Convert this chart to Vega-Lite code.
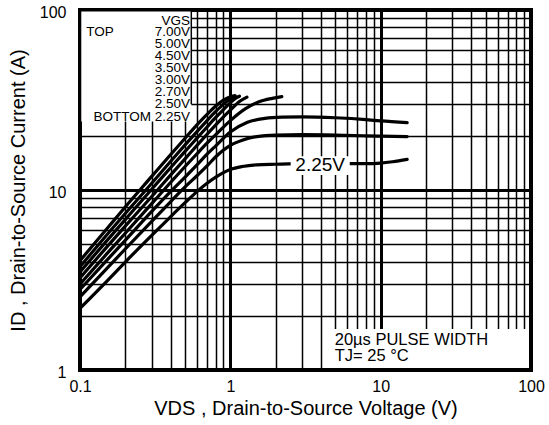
{
  "$schema": "https://vega.github.io/schema/vega-lite/v6.json",
  "width": 451,
  "height": 360,
  "autosize": "none",
  "padding": {"left": 80, "top": 10, "right": 18, "bottom": 55},
  "background": "white",
  "config": {
    "font": "Liberation Sans",
    "view": {"stroke": "black", "strokeWidth": 4},
    "axis": {
      "grid": true,
      "gridColor": "#000",
      "gridOpacity": 1,
      "ticks": false,
      "domain": false,
      "labelColor": "#000",
      "labelFontSize": 16,
      "labelOverlap": false,
      "labelBound": false,
      "labelFlush": false,
      "titleColor": "#000",
      "titleFontWeight": "normal",
      "titleFontSize": 20
    }
  },
  "datasets": {
    "curves": [
      {"vgs": "2.25V", "vds": 0.1, "id": 2.2}, {"vgs": "2.25V", "vds": 0.15, "id": 3.1}, {"vgs": "2.25V", "vds": 0.2, "id": 3.98}, {"vgs": "2.25V", "vds": 0.3, "id": 5.6}, {"vgs": "2.25V", "vds": 0.4, "id": 7.1}, {"vgs": "2.25V", "vds": 0.5, "id": 8.5}, {"vgs": "2.25V", "vds": 0.6, "id": 9.8}, {"vgs": "2.25V", "vds": 0.7, "id": 10.9}, {"vgs": "2.25V", "vds": 0.8, "id": 11.8}, {"vgs": "2.25V", "vds": 0.9, "id": 12.5}, {"vgs": "2.25V", "vds": 1.0, "id": 13.0}, {"vgs": "2.25V", "vds": 1.2, "id": 13.5}, {"vgs": "2.25V", "vds": 1.5, "id": 13.8}, {"vgs": "2.25V", "vds": 2.0, "id": 13.9}, {"vgs": "2.25V", "vds": 3, "id": 14.0}, {"vgs": "2.25V", "vds": 5, "id": 14.0}, {"vgs": "2.25V", "vds": 8, "id": 14.0}, {"vgs": "2.25V", "vds": 10, "id": 14.1}, {"vgs": "2.25V", "vds": 12, "id": 14.35}, {"vgs": "2.25V", "vds": 15, "id": 14.8},
      {"vgs": "2.50V", "vds": 0.1, "id": 2.55}, {"vgs": "2.50V", "vds": 0.15, "id": 3.65}, {"vgs": "2.50V", "vds": 0.2, "id": 4.7}, {"vgs": "2.50V", "vds": 0.3, "id": 6.7}, {"vgs": "2.50V", "vds": 0.4, "id": 8.6}, {"vgs": "2.50V", "vds": 0.5, "id": 10.4}, {"vgs": "2.50V", "vds": 0.6, "id": 12.0}, {"vgs": "2.50V", "vds": 0.7, "id": 13.6}, {"vgs": "2.50V", "vds": 0.8, "id": 15.3}, {"vgs": "2.50V", "vds": 1.0, "id": 17.7}, {"vgs": "2.50V", "vds": 1.2, "id": 18.9}, {"vgs": "2.50V", "vds": 1.5, "id": 19.8}, {"vgs": "2.50V", "vds": 2.0, "id": 20.2}, {"vgs": "2.50V", "vds": 3, "id": 20.3}, {"vgs": "2.50V", "vds": 5, "id": 20.2}, {"vgs": "2.50V", "vds": 8, "id": 20.0}, {"vgs": "2.50V", "vds": 10, "id": 19.9}, {"vgs": "2.50V", "vds": 15, "id": 19.8},
      {"vgs": "2.70V", "vds": 0.1, "id": 2.8}, {"vgs": "2.70V", "vds": 0.15, "id": 4.05}, {"vgs": "2.70V", "vds": 0.2, "id": 5.25}, {"vgs": "2.70V", "vds": 0.3, "id": 7.6}, {"vgs": "2.70V", "vds": 0.4, "id": 9.8}, {"vgs": "2.70V", "vds": 0.5, "id": 11.8}, {"vgs": "2.70V", "vds": 0.6, "id": 13.8}, {"vgs": "2.70V", "vds": 0.7, "id": 15.8}, {"vgs": "2.70V", "vds": 0.8, "id": 17.6}, {"vgs": "2.70V", "vds": 1.0, "id": 21.0}, {"vgs": "2.70V", "vds": 1.3, "id": 23.8}, {"vgs": "2.70V", "vds": 1.7, "id": 25.0}, {"vgs": "2.70V", "vds": 2.2, "id": 25.4}, {"vgs": "2.70V", "vds": 3, "id": 25.5}, {"vgs": "2.70V", "vds": 5, "id": 25.2}, {"vgs": "2.70V", "vds": 8, "id": 24.6}, {"vgs": "2.70V", "vds": 10, "id": 24.2}, {"vgs": "2.70V", "vds": 15, "id": 23.7},
      {"vgs": "3.00V", "vds": 0.1, "id": 3.0}, {"vgs": "3.00V", "vds": 0.15, "id": 4.4}, {"vgs": "3.00V", "vds": 0.2, "id": 5.75}, {"vgs": "3.00V", "vds": 0.3, "id": 8.4}, {"vgs": "3.00V", "vds": 0.4, "id": 11.0}, {"vgs": "3.00V", "vds": 0.5, "id": 13.5}, {"vgs": "3.00V", "vds": 0.6, "id": 15.9}, {"vgs": "3.00V", "vds": 0.7, "id": 18.2}, {"vgs": "3.00V", "vds": 0.8, "id": 20.3}, {"vgs": "3.00V", "vds": 1.0, "id": 24.3}, {"vgs": "3.00V", "vds": 1.27, "id": 28.4}, {"vgs": "3.00V", "vds": 1.55, "id": 30.9}, {"vgs": "3.00V", "vds": 1.9, "id": 32.3}, {"vgs": "3.00V", "vds": 2.2, "id": 33.0},
      {"vgs": "3.50V", "vds": 0.1, "id": 3.25}, {"vgs": "3.50V", "vds": 0.15, "id": 4.8}, {"vgs": "3.50V", "vds": 0.2, "id": 6.3}, {"vgs": "3.50V", "vds": 0.3, "id": 9.2}, {"vgs": "3.50V", "vds": 0.4, "id": 12.1}, {"vgs": "3.50V", "vds": 0.5, "id": 14.9}, {"vgs": "3.50V", "vds": 0.6, "id": 17.7}, {"vgs": "3.50V", "vds": 0.7, "id": 20.4}, {"vgs": "3.50V", "vds": 0.8, "id": 23.0}, {"vgs": "3.50V", "vds": 0.9, "id": 25.5}, {"vgs": "3.50V", "vds": 1.0, "id": 27.8}, {"vgs": "3.50V", "vds": 1.15, "id": 31.0}, {"vgs": "3.50V", "vds": 1.29, "id": 32.8},
      {"vgs": "4.50V", "vds": 0.1, "id": 3.5}, {"vgs": "4.50V", "vds": 0.15, "id": 5.2}, {"vgs": "4.50V", "vds": 0.2, "id": 6.85}, {"vgs": "4.50V", "vds": 0.3, "id": 10.1}, {"vgs": "4.50V", "vds": 0.4, "id": 13.3}, {"vgs": "4.50V", "vds": 0.5, "id": 16.4}, {"vgs": "4.50V", "vds": 0.6, "id": 19.4}, {"vgs": "4.50V", "vds": 0.7, "id": 22.4}, {"vgs": "4.50V", "vds": 0.8, "id": 25.3}, {"vgs": "4.50V", "vds": 0.9, "id": 28.0}, {"vgs": "4.50V", "vds": 1.0, "id": 30.6}, {"vgs": "4.50V", "vds": 1.1, "id": 32.6}, {"vgs": "4.50V", "vds": 1.15, "id": 33.2},
      {"vgs": "5.00V", "vds": 0.1, "id": 3.75}, {"vgs": "5.00V", "vds": 0.15, "id": 5.6}, {"vgs": "5.00V", "vds": 0.2, "id": 7.4}, {"vgs": "5.00V", "vds": 0.3, "id": 10.9}, {"vgs": "5.00V", "vds": 0.4, "id": 14.4}, {"vgs": "5.00V", "vds": 0.5, "id": 17.8}, {"vgs": "5.00V", "vds": 0.6, "id": 21.1}, {"vgs": "5.00V", "vds": 0.7, "id": 24.3}, {"vgs": "5.00V", "vds": 0.8, "id": 27.3}, {"vgs": "5.00V", "vds": 0.9, "id": 30.0}, {"vgs": "5.00V", "vds": 1.0, "id": 32.2}, {"vgs": "5.00V", "vds": 1.08, "id": 33.3},
      {"vgs": "7.00V", "vds": 0.1, "id": 4.05}, {"vgs": "7.00V", "vds": 0.15, "id": 6.05}, {"vgs": "7.00V", "vds": 0.2, "id": 8.05}, {"vgs": "7.00V", "vds": 0.3, "id": 11.9}, {"vgs": "7.00V", "vds": 0.4, "id": 15.7}, {"vgs": "7.00V", "vds": 0.5, "id": 19.4}, {"vgs": "7.00V", "vds": 0.6, "id": 23.0}, {"vgs": "7.00V", "vds": 0.7, "id": 26.3}, {"vgs": "7.00V", "vds": 0.8, "id": 29.3}, {"vgs": "7.00V", "vds": 0.9, "id": 31.6}, {"vgs": "7.00V", "vds": 1.0, "id": 33.0}, {"vgs": "7.00V", "vds": 1.06, "id": 33.4}
    ],
    "boxes": [
      {"x": 0.102, "x2": 0.55, "y": 24, "y2": 98},
      {"x": 2.52, "x2": 6.23, "y": 12.1, "y2": 15.4},
      {"x": 4.15, "x2": 95.5, "y": 1.025, "y2": 1.69}
    ],
    "rules": [
      {"x": 0.55, "y": 30, "y2": 100}
    ],
    "legend": [
      {"label": "VGS", "x": 0.54, "y": 87.4},
      {"label": "7.00V", "x": 0.54, "y": 75.0},
      {"label": "5.00V", "x": 0.54, "y": 64.7},
      {"label": "4.50V", "x": 0.54, "y": 55.5},
      {"label": "3.50V", "x": 0.54, "y": 47.6},
      {"label": "3.00V", "x": 0.54, "y": 40.8},
      {"label": "2.70V", "x": 0.54, "y": 35.0},
      {"label": "2.50V", "x": 0.54, "y": 30.0},
      {"label": "BOTTOM 2.25V", "x": 0.54, "y": 25.4}
    ],
    "top": [
      {"label": "TOP", "x": 0.11, "y": 75.0}
    ],
    "curvelabel": [
      {"label": "2.25V", "x": 3.96, "y": 13.8}
    ],
    "notes": [
      {"label": "20µs PULSE WIDTH", "x": 4.95, "y": 1.468},
      {"label": "TJ= 25 °C", "x": 4.95, "y": 1.199}
    ]
  },
  "layer": [
    {
      "data": {"name": "curves"},
      "mark": {"type": "line", "color": "black", "strokeWidth": 3.2, "interpolate": "monotone", "strokeCap": "round", "clip": true},
      "encoding": {
        "x": {
          "field": "vds", "type": "quantitative",
          "scale": {"type": "log", "domain": [0.1, 100]},
          "axis": {
            "values": [0.1, 0.2, 0.3, 0.4, 0.5, 0.6, 0.7, 0.8, 0.9, 1, 2, 3, 4, 5, 6, 7, 8, 9, 10, 20, 30, 40, 50, 60, 70, 80, 90, 100],
            "labelExpr": "datum.value == 0.1 ? '0.1' : datum.value == 1 ? '1' : datum.value == 10 ? '10' : datum.value == 100 ? '100' : ''",
            "gridWidth": {"condition": {"test": "datum.value == 1 || datum.value == 10", "value": 3}, "value": 1.5},
            "labelPadding": 8,
            "title": "VDS , Drain-to-Source Voltage (V)",
            "titlePadding": 4
          }
        },
        "y": {
          "field": "id", "type": "quantitative",
          "scale": {"type": "log", "domain": [1, 100]},
          "axis": {
            "values": [1, 2, 3, 4, 5, 6, 7, 8, 9, 10, 20, 30, 40, 50, 60, 70, 80, 90, 100],
            "labelExpr": "datum.value == 1 ? '1' : datum.value == 10 ? '10' : datum.value == 100 ? '100' : ''",
            "gridWidth": {"condition": {"test": "datum.value == 10", "value": 3}, "value": 1.5},
            "labelPadding": 14,
            "labelOffset": 2,
            "title": "ID , Drain-to-Source Current (A)",
            "titlePadding": 11
          }
        },
        "detail": {"field": "vgs"}
      }
    },
    {
      "data": {"name": "boxes"},
      "mark": {"type": "rect", "fill": "white", "stroke": null},
      "encoding": {
        "x": {"field": "x", "type": "quantitative"},
        "x2": {"field": "x2"},
        "y": {"field": "y", "type": "quantitative"},
        "y2": {"field": "y2"}
      }
    },
    {
      "data": {"name": "rules"},
      "mark": {"type": "rule", "color": "black", "strokeWidth": 1.5},
      "encoding": {
        "x": {"field": "x", "type": "quantitative"},
        "y": {"field": "y", "type": "quantitative"},
        "y2": {"field": "y2"}
      }
    },
    {
      "data": {"name": "legend"},
      "mark": {"type": "text", "align": "right", "baseline": "middle", "fontSize": 13.5, "color": "black"},
      "encoding": {
        "x": {"field": "x", "type": "quantitative"},
        "y": {"field": "y", "type": "quantitative"},
        "text": {"field": "label"}
      }
    },
    {
      "data": {"name": "top"},
      "mark": {"type": "text", "align": "left", "baseline": "middle", "fontSize": 13.5, "color": "black"},
      "encoding": {
        "x": {"field": "x", "type": "quantitative"},
        "y": {"field": "y", "type": "quantitative"},
        "text": {"field": "label"}
      }
    },
    {
      "data": {"name": "curvelabel"},
      "mark": {"type": "text", "align": "center", "baseline": "middle", "fontSize": 19, "color": "black"},
      "encoding": {
        "x": {"field": "x", "type": "quantitative"},
        "y": {"field": "y", "type": "quantitative"},
        "text": {"field": "label"}
      }
    },
    {
      "data": {"name": "notes"},
      "mark": {"type": "text", "align": "left", "baseline": "middle", "fontSize": 16.5, "color": "black"},
      "encoding": {
        "x": {"field": "x", "type": "quantitative"},
        "y": {"field": "y", "type": "quantitative"},
        "text": {"field": "label"}
      }
    }
  ]
}
